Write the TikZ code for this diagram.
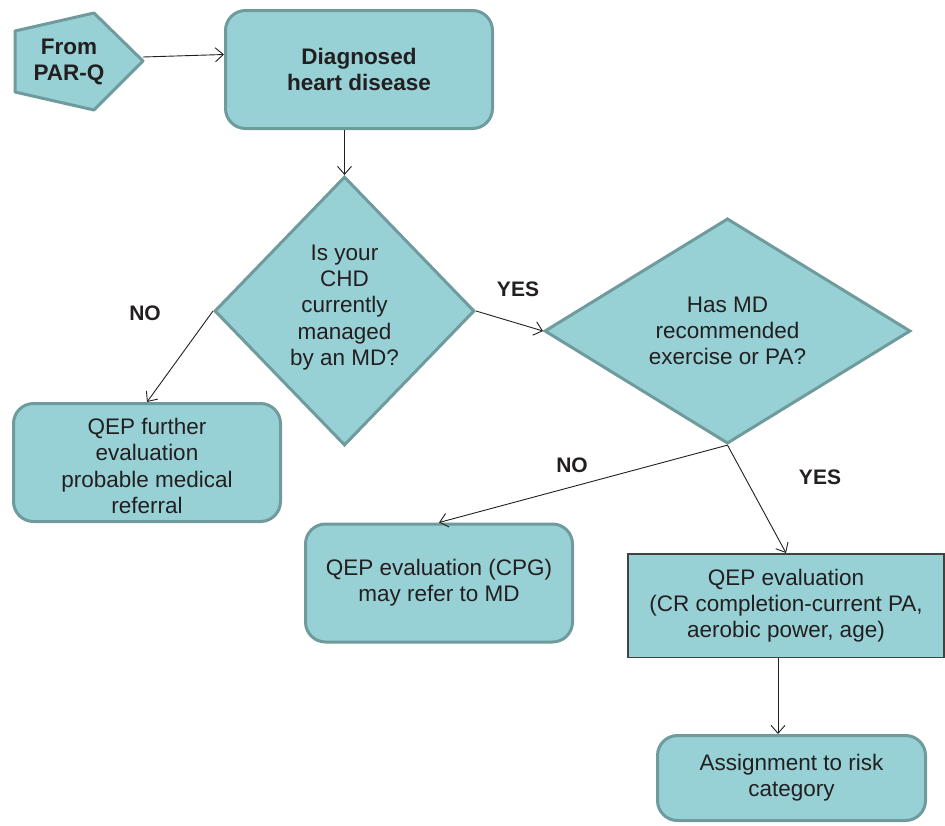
\documentclass[tikz,border=0pt]{standalone}
\usepackage{fontspec}
\setmainfont{Liberation Sans}
\usetikzlibrary{shapes.geometric,arrows.meta,calc}
\definecolor{boxfill}{RGB}{151,209,213}
\definecolor{boxedge}{RGB}{111,155,157}
\definecolor{ink}{RGB}{35,31,32}
\begin{document}
\begin{tikzpicture}[x=1pt,y=-1pt,
  every node/.style={font=\fontsize{22.5}{26.2}\selectfont, text=ink, align=center},
  flowbox/.style={draw=boxedge, fill=boxfill, line width=3pt, rounded corners=20pt, inner sep=0pt},
  decision/.style={diamond, draw=boxedge, fill=boxfill, line width=3pt, inner sep=0pt, aspect=1},
  link/.style={-{Straight Barb[length=8pt,width=14pt]}, line width=0.9pt, draw=ink},
  answer/.style={font=\bfseries\fontsize{21}{24}\selectfont}]
\useasboundingbox (0,0) rectangle (945,825);

% start marker (off-page connector)
\draw[draw=boxedge, fill=boxfill, line width=3pt, line join=round]
  (15,31) -- (94,13) -- (143,61) -- (94,110) -- (15,92) -- cycle;
\node (from) at (69,62) {\bfseries From\\\bfseries PAR-Q};
\coordinate (fromtip) at (143,57);

% boxes
\node[flowbox, minimum width=267pt, minimum height=118pt] (diag) at (359,69.5)
  {\bfseries Diagnosed\\\bfseries heart disease};
\node[flowbox, minimum width=267pt, minimum height=118pt] (q1) at (147,462.5) {};
\node (q1text) at (147,466)
  {QEP further\\evaluation\\probable medical\\referral};
\node[flowbox, minimum width=267pt, minimum height=118pt] (q2) at (439,583)
  {QEP evaluation (CPG)\\may refer to MD};
\node[draw=ink!85, fill=boxfill, line width=1.5pt, inner sep=0pt,
      minimum width=316pt, minimum height=103.5pt] (q3) at (786,605.5)
  {QEP evaluation\\(CR completion-current PA,\\aerobic power, age)};
\node[flowbox, minimum width=268pt, minimum height=85pt] (q4) at (791.5,778)
  {Assignment to risk\\category};

% decisions
\node[decision, minimum width=260pt, minimum height=269pt] (d1) at (344.5,311) {};
\node (d1text) at (344.5,307.5) {Is your\\CHD\\currently\\managed\\by an MD?};
\node[decision, minimum width=366pt, minimum height=217pt] (d2) at (727.5,331)
  {Has MD\\recommended\\exercise or PA?};

% answer labels
\node[answer] (noA) at (145,313) {NO};
\node[answer] (yesA) at (518,289) {YES};
\node[answer] (noB) at (572,465) {NO};
\node[answer] (yesB) at (820,477) {YES};

% connectors
\draw[link] (fromtip) -- ($(diag.west)+(0,-15)$);
\draw[link] (diag.south -| d1.north) -- (d1.north);
\draw[link] (d1.east) -- (d2.west);
\draw[link] (d1.west) -- (q1.north);
\draw[link] (d2.south) -- (q2.north);
\draw[link] (d2.south) -- (q3.north);
\draw[link] ([xshift=-8pt]q3.south) -- ([xshift=-8pt]q3.south |- q4.north);
\end{tikzpicture}
\end{document}
